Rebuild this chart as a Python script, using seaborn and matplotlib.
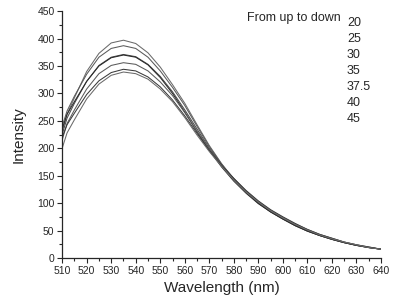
import matplotlib.pyplot as plt
import matplotlib.ticker as mticker
import seaborn as sns
import pandas as pd

# wavelength grid (nm)
wavelength = [510, 512, 515, 520, 525, 530, 535, 540, 545, 550, 555, 560, 565, 570,
              575, 580, 585, 590, 595, 600, 605, 610, 615, 620, 625, 630, 635, 640]

# intensity curves, listed from top to bottom at the peak
t20 = [230, 262, 292, 340, 373, 392, 397, 391, 374, 348, 316, 282, 243, 205,
       172, 144, 120, 100, 84, 71, 59, 49, 41, 34, 28, 23, 19, 16]
t25 = [240, 268, 295, 335, 366, 382, 387, 382, 366, 341, 311, 278, 240, 203,
       171, 143, 120, 100, 84, 71, 59, 49, 41, 34, 28, 23, 19, 16]
t30 = [225, 255, 282, 322, 351, 366, 371, 367, 353, 331, 303, 270, 235, 200,
       170, 143, 120, 101, 85, 72, 60, 50, 41, 34, 28, 23, 19, 16]
t35 = [235, 262, 285, 322, 350, 365, 370, 366, 352, 329, 300, 266, 230, 196,
       166, 140, 118, 99, 84, 71, 59, 49, 41, 34, 28, 23, 19, 16]
t375 = [215, 245, 270, 308, 336, 351, 356, 353, 341, 321, 296, 265, 231, 198,
        170, 145, 122, 103, 87, 74, 62, 52, 43, 36, 29, 24, 20, 16]
t40 = [220, 243, 264, 298, 323, 338, 344, 341, 330, 312, 288, 259, 227, 196,
       169, 145, 123, 104, 88, 75, 63, 52, 43, 36, 29, 24, 20, 16]
t45 = [200, 228, 252, 290, 317, 333, 339, 336, 326, 308, 285, 256, 224, 194,
       167, 142, 120, 102, 86, 73, 61, 51, 42, 35, 29, 24, 19, 16]

labels = ["20", "25", "30", "35", "37.5", "40", "45"]
series = [t20, t25, t30, t35, t375, t40, t45]

rows = []
for lab, vals in zip(labels, series):
    for w, v in zip(wavelength, vals):
        rows.append({"Wavelength": w, "Intensity": v, "T": lab})
df = pd.DataFrame(rows)

sns.set_style("ticks")
plt.rcParams["font.family"] = ["Liberation Sans", "DejaVu Sans"]

fig = plt.figure(figsize=(4.01, 3.01), dpi=100)
ax = fig.add_axes([0.155, 0.143, 0.795, 0.82])

palette = ["#6a6a6a", "#5a5a5a", "#4a4a4a", "#2a2a2a", "#5a5a5a", "#3a3a3a", "#6a6a6a"]
sns.lineplot(data=df, x="Wavelength", y="Intensity", hue="T", palette=palette,
             legend=False, linewidth=0.75, ax=ax)

ax.set_xlim(510, 640)
ax.set_ylim(0, 450)
ax.xaxis.set_major_locator(mticker.MultipleLocator(10))
ax.xaxis.set_minor_locator(mticker.MultipleLocator(5))
ax.yaxis.set_major_locator(mticker.MultipleLocator(50))
ax.yaxis.set_minor_locator(mticker.MultipleLocator(25))
ax.tick_params(which="major", length=3.5, width=0.8, labelsize=7.5, pad=2)
ax.tick_params(which="minor", length=2, width=0.8)
sns.despine(ax=ax)
for s in ["left", "bottom"]:
    ax.spines[s].set_linewidth(0.9)

ax.set_xlabel("Wavelength (nm)", fontsize=11, labelpad=4)
ax.set_ylabel("Intensity", fontsize=11, labelpad=8)

ax.text(0.849, 0.96, "From up to down", transform=fig.transFigure,
        fontsize=9, ha="right", va="top")
for i, lab in enumerate(labels):
    ax.text(0.865, 0.945 - i * 0.0535, lab, transform=fig.transFigure,
            fontsize=9, ha="left", va="top")

fig.savefig("out.png", dpi=100)
